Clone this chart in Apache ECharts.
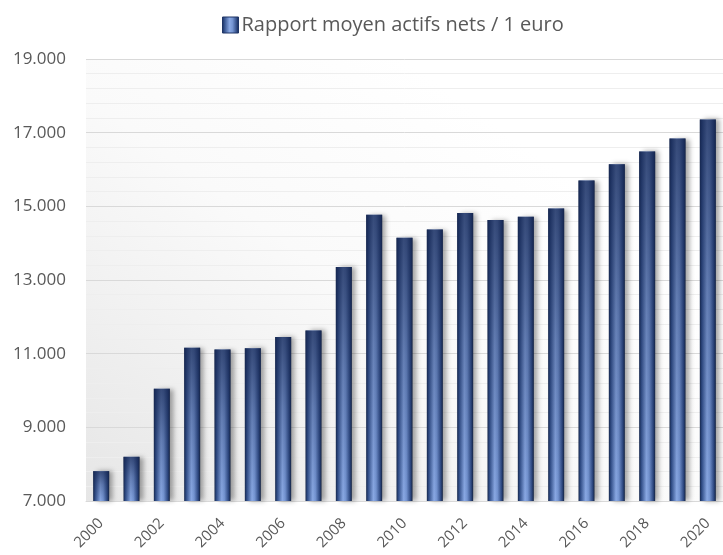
<!DOCTYPE html>
<html>
<head>
<meta charset="utf-8">
<script src="https://cdn.jsdelivr.net/npm/echarts@6/dist/echarts.min.js"></script>
<style>
  html, body { margin: 0; padding: 0; background: #ffffff; }
  #chart { width: 723px; height: 555px; }
</style>
</head>
<body>
<div id="chart"></div>
<script>
// Years on the horizontal axis
const years = ['2000','2001','2002','2003','2004','2005','2006','2007','2008','2009','2010',
               '2011','2012','2013','2014','2015','2016','2017','2018','2019','2020'];
// Average ratio of net assets per 1 euro
const ratio = [7810, 8200, 10050, 11160, 11110, 11150, 11450, 11630, 13350, 14770, 14150,
               14370, 14820, 14630, 14720, 14940, 15700, 16140, 16490, 16840, 17360];
const seriesName = 'Rapport moyen actifs nets / 1 euro';
const yMin = 7000, yMax = 19000, yStep = 2000;

const fontFamily = '"Open Sans", "Noto Sans", sans-serif';
const textColor = '#595959';

// Fill of each column: dark edges, light blue centre
const barFill = new echarts.graphic.LinearGradient(0, 0, 1, 0, [
  { offset: 0.00, color: '#17284c' },
  { offset: 0.12, color: '#2f4c86' },
  { offset: 0.45, color: '#8aa9e4' },
  { offset: 0.62, color: '#7595d2' },
  { offset: 0.88, color: '#2c4780' },
  { offset: 1.00, color: '#14223f' }
]);
// Darkening toward the top of each column
const barShade = new echarts.graphic.LinearGradient(0, 0, 0, 1, [
  { offset: 0.00, color: 'rgba(22,38,80,0.72)' },
  { offset: 0.45, color: 'rgba(22,38,80,0.32)' },
  { offset: 1.00, color: 'rgba(22,38,80,0.00)' }
]);

const chart = echarts.init(document.getElementById('chart'), null, { renderer: 'canvas' });
chart.setOption({
  animation: false,
  backgroundColor: '#ffffff',
  textStyle: { fontFamily: fontFamily },
  legend: {
    data: [seriesName],
    left: 217,
    top: 10,
    icon: 'rect',
    itemWidth: 16,
    itemHeight: 16,
    itemGap: 4,
    textStyle: { color: textColor, fontSize: 20, fontFamily: fontFamily, padding: [0, 0, 0, -2] },
    itemStyle: { borderColor: '#1f3566', borderWidth: 1 }
  },
  grid: {
    left: 86,
    right: -8,
    top: 59,
    bottom: 54,
    show: true,
    borderWidth: 0,
    backgroundColor: new echarts.graphic.LinearGradient(0, 1, 0.5, 0, [
      { offset: 0, color: '#e6e6e6' },
      { offset: 0.6, color: '#fafafa' },
      { offset: 1, color: '#ffffff' }
    ])
  },
  xAxis: {
    type: 'category',
    data: years,
    axisLine: { show: true, lineStyle: { color: '#d9d9d9' } },
    axisTick: { show: false },
    axisLabel: {
      interval: 1,
      rotate: 45,
      margin: 20,
      color: textColor,
      fontSize: 15,
      fontFamily: fontFamily
    }
  },
  yAxis: {
    type: 'value',
    min: yMin,
    max: yMax,
    interval: yStep,
    axisLine: { show: false },
    axisTick: { show: false },
    axisLabel: {
      margin: 20,
      color: textColor,
      fontSize: 17,
      fontFamily: fontFamily,
      formatter: v => String(v).replace(/\B(?=(\d{3})+(?!\d))/g, '.')
    },
    splitLine: { lineStyle: { color: '#d9d9d9', width: 1 } },
    minorTick: { show: false, splitNumber: 5 },
    minorSplitLine: { show: true, lineStyle: { color: '#eeeeee', width: 1 } }
  },
  series: [
    {
      name: seriesName,
      type: 'bar',
      data: ratio,
      barWidth: 16,
      itemStyle: {
        color: barFill,
        shadowColor: 'rgba(0,0,0,0.35)',
        shadowBlur: 5,
        shadowOffsetX: 4,
        shadowOffsetY: 0
      }
    },
    {
      name: 'shade',
      type: 'bar',
      data: ratio,
      barWidth: 16,
      barGap: '-100%',
      silent: true,
      itemStyle: { color: barShade }
    }
  ]
});
</script>
</body>
</html>
